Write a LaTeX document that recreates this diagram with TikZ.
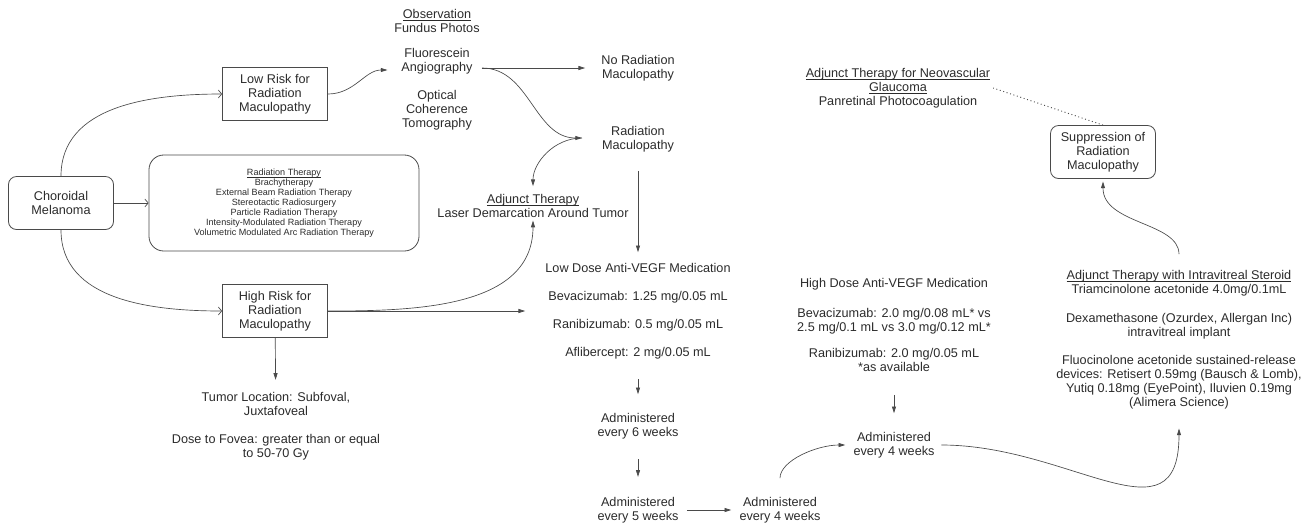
\documentclass[tikz,border=0pt]{standalone}
\usepackage{fontspec}
\setmainfont{Liberation Sans}
\usetikzlibrary{arrows.meta}
\definecolor{inkgray}{HTML}{2B2B2B}
\definecolor{linegray}{HTML}{4A4A4A}
\newcommand{\undertext}[1]{\setbox0\hbox{#1}\rlap{\rule[-1.6pt]{\wd0}{0.45pt}}\box0}

\begin{document}
\begin{tikzpicture}[x=0.75pt,y=-0.75pt,
  font=\fontsize{9.5}{10.5}\selectfont, text=inkgray,
  riskbox/.style={draw=linegray, line width=0.6pt, align=center, minimum width=78.75pt, minimum height=39.75pt, inner sep=1pt},
  roundbox/.style={riskbox, rounded corners=6pt},
  txt/.style={align=center, inner sep=2pt},
  flow/.style={draw=linegray, line width=0.5pt, -{Triangle[length=5pt,width=3pt]}},
  openflow/.style={draw=linegray, line width=0.5pt, -{Straight Barb[length=2.5pt,width=6pt]}}
]
\useasboundingbox (0,0) rectangle (1314,526);

% Diagnosis and risk groups
\node[roundbox] (melanoma) at (61,203) {Choroidal\\Melanoma};
\node[riskbox] (lowrisk) at (275,94) {Low Risk for\\Radiation\\Maculopathy};
\node[riskbox] (highrisk) at (275,311) {High Risk for\\Radiation\\Maculopathy};
\node[roundbox, rounded corners=11pt, minimum width=202.5pt, minimum height=72pt, font=\fontsize{6.8}{7.5}\selectfont] (radtherapy) at (284,203)
  {\undertext{Radiation Therapy}\\Brachytherapy\\External Beam Radiation Therapy\\Stereotactic Radiosurgery\\Particle Radiation Therapy\\Intensity-Modulated Radiation Therapy\\Volumetric Modulated Arc Radiation Therapy};
\node[txt] (tumor) at (276,426) {Tumor Location: Subfoval,\\Juxtafoveal\\[10.5pt]Dose to Fovea: greater than or equal\\to 50-70 Gy};

% Observation branch
\node[txt] (observation) at (437,70) {\undertext{Observation}\\Fundus Photos\\[8pt]Fluorescein\\Angiography\\[11pt]Optical\\Coherence\\Tomography};
\node[txt] (noradmac) at (638,68) {No Radiation\\Maculopathy};
\node[txt] (radmac) at (638,139) {Radiation\\Maculopathy};
\node[txt] (laser) at (533,206) {\undertext{Adjunct Therapy}\\Laser Demarcation Around Tumor};
\coordinate (split) at (482,68);
\coordinate (meet) at (582,138);

% Anti-VEGF
\node[txt] (lowdose) at (638,311) {Low Dose Anti-VEGF Medication\\[10.5pt]Bevacizumab: 1.25 mg/0.05 mL\\[10.5pt]Ranibizumab: 0.5 mg/0.05 mL\\[10.5pt]Aflibercept: 2 mg/0.05 mL};
\node[txt] (every6) at (638,426) {Administered\\every 6 weeks};
\node[txt] (every5) at (638,510) {Administered\\every 5 weeks};
\node[txt] (every4low) at (780,510) {Administered\\every 4 weeks};
\node[txt] (highdose) at (894,325) {High Dose Anti-VEGF Medication\\[12pt]Bevacizumab: 2.0 mg/0.08 mL* vs\\2.5 mg/0.1 mL vs 3.0 mg/0.12 mL*\\[9.5pt]Ranibizumab: 2.0 mg/0.05 mL\\*as available};
\node[txt] (every4high) at (894,445) {Administered\\every 4 weeks};

% Steroids and suppression
\node[txt] (steroid) at (1179,340) {\undertext{Adjunct Therapy with Intravitreal Steroid}\\Triamcinolone acetonide 4.0mg/0.1mL\\[11pt]Dexamethasone (Ozurdex, Allergan Inc)\\intravitreal implant\\[11pt]Fluocinolone acetonide sustained-release\\devices: Retisert 0.59mg (Bausch \& Lomb),\\Yutiq 0.18mg (EyePoint), Iluvien 0.19mg\\(Alimera Science)};
\node[roundbox] (suppression) at (1103,152) {Suppression of\\Radiation\\Maculopathy};
\node[txt] (glaucoma) at (898,88) {\undertext{Adjunct Therapy for Neovascular}\\\undertext{Glaucoma}\\Panretinal Photocoagulation};

% Connectors
\draw[openflow] (melanoma) -- (radtherapy);
\draw[openflow] (melanoma.north) to[out=90,in=180] (lowrisk.west);
\draw[openflow] (melanoma.south) to[out=-90,in=180] (highrisk.west);
\draw[flow, shorten >=3pt] (lowrisk.east) to[out=0,in=180] (observation.west);
\draw[flow, shorten >=10pt] (split) -- (noradmac.west);
\draw[flow] (split) to[out=0,in=180] (meet);
\draw[flow, shorten >=4pt] (meet) to[out=180,in=90] (laser.north);
\draw[flow] (highrisk.east) to[out=0,in=-90] (laser.south);
\draw[flow, shorten >=13pt] (highrisk.east) -- (lowdose.west);
\draw[flow, shorten >=7pt] (highrisk) -- (tumor);
\draw[flow, shorten <=12pt, shorten >=6pt] (radmac) -- (lowdose);
\draw[flow, shorten <=13pt, shorten >=12pt] (lowdose) -- (every6);
\draw[flow, shorten <=13pt, shorten >=13pt] (every6) -- (every5);
\draw[flow, shorten <=4pt, shorten >=4pt] (every5) -- (every4low);
\draw[flow, shorten <=12pt, shorten >=4pt] (every4low.north) to[out=90,in=180] (every4high.west);
\draw[flow, shorten <=15pt, shorten >=12pt] (highdose) -- (every4high);
\draw[flow, shorten <=3pt, shorten >=12pt] (every4high.east) to[out=0,in=-90,looseness=1.4] (steroid.south);
\draw[flow, shorten <=10pt, shorten >=2pt] (steroid.north) to[out=90,in=-90] (suppression.south);
\draw[linegray, dotted, line width=0.7pt] (suppression.north) -- (glaucoma.east);
\end{tikzpicture}
\end{document}
